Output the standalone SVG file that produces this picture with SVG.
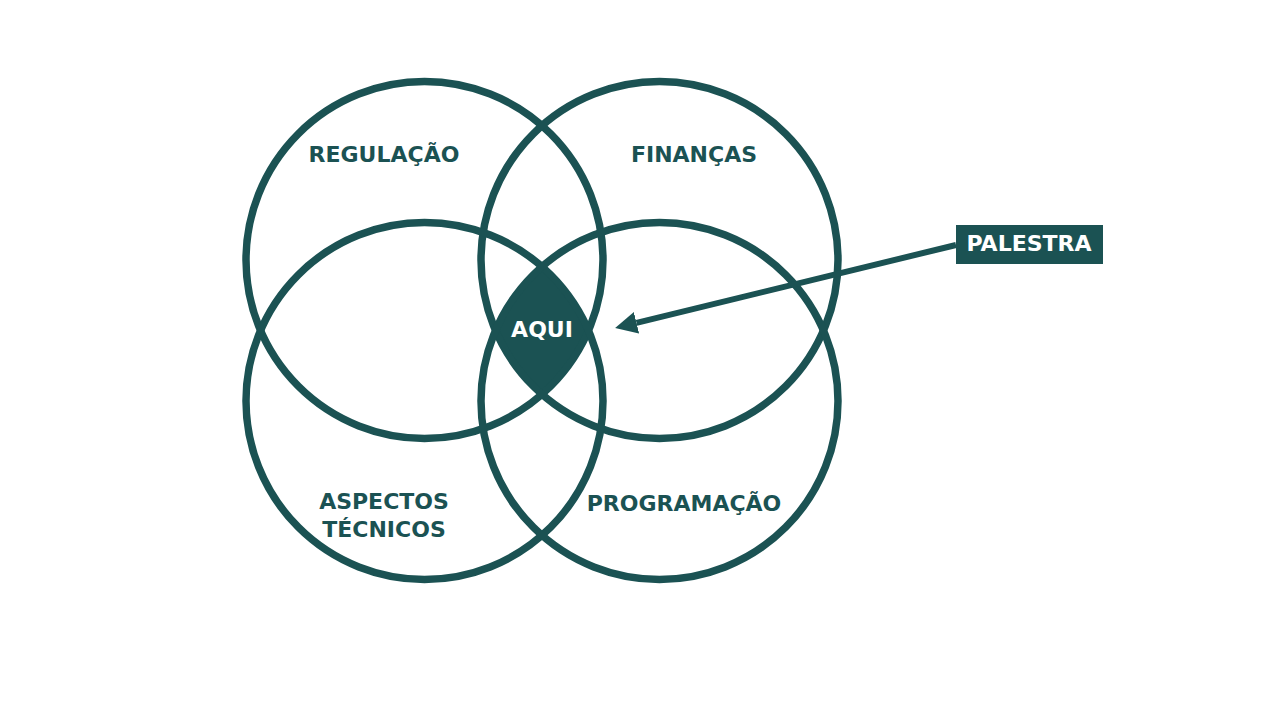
<svg xmlns="http://www.w3.org/2000/svg" width="1280" height="720" viewBox="0 0 1280 720">
  <defs>
    <style>
      .ring { fill: none; stroke: #1b5253; stroke-width: 7.5; }
      .lbl { font-family: "DejaVu Sans", Verdana, sans-serif; font-weight: bold; font-size: 22px; fill: #1b5253; text-anchor: middle; }
      .wlbl { font-family: "DejaVu Sans", Verdana, sans-serif; font-weight: bold; font-size: 22px; fill: #ffffff; text-anchor: middle; }
    </style>
    <marker id="ah" viewBox="0 0 22 22" refX="0" refY="11" markerWidth="22" markerHeight="22" orient="auto" markerUnits="userSpaceOnUse">
      <path d="M0,0 L22,11 L0,22 z" fill="#1b5253"/>
    </marker>
  </defs>
  <rect width="1280" height="720" fill="#ffffff"/>
  <g id="center">
    <path d="M542,267 A178.5,178.5 0 0 1 588.4,330.5 A178.5,178.5 0 0 1 542,394.1 A178.5,178.5 0 0 1 495.6,330.5 A178.5,178.5 0 0 1 542,267 Z" fill="#1b5253"/>
    <text class="wlbl" x="542" y="337">AQUI</text>
  </g>
  <g id="regulacao">
    <circle class="ring" cx="424.5" cy="260" r="178.5"/>
    <text class="lbl" x="384" y="162">REGULAÇÃO</text>
  </g>
  <g id="financas">
    <circle class="ring" cx="659.5" cy="260" r="178.5"/>
    <text class="lbl" x="694" y="162">FINANÇAS</text>
  </g>
  <g id="aspectos">
    <circle class="ring" cx="424.5" cy="401" r="178.5"/>
    <text class="lbl" x="384" y="509">ASPECTOS</text>
    <text class="lbl" x="384" y="537">TÉCNICOS</text>
  </g>
  <g id="programacao">
    <circle class="ring" cx="659.5" cy="401" r="178.5"/>
    <text class="lbl" x="684" y="511">PROGRAMAÇÃO</text>
  </g>
  <g id="connectors">
    <line x1="956" y1="245" x2="636.5" y2="322.8" stroke="#1b5253" stroke-width="6" marker-end="url(#ah)"/>
  </g>
  <g id="palestra">
    <rect x="956" y="225" width="147" height="39" fill="#1b5253"/>
    <text class="wlbl" x="1029" y="251">PALESTRA</text>
  </g>
</svg>
